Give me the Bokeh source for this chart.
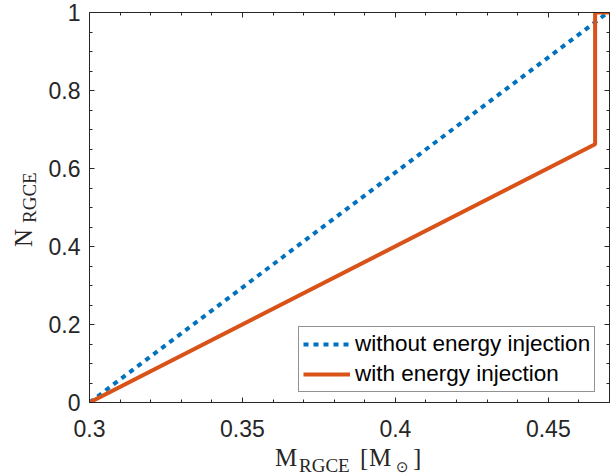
from bokeh.plotting import figure
from bokeh.models import FixedTicker, LinearAxis, Legend, LegendItem, Range1d, Div
from bokeh.layouts import column, row
from bokeh.embed import file_html
from bokeh.resources import INLINE

# ---- data ----
mass_without = [0.3, 0.4695]
n_without = [0.0, 1.0]
mass_with = [0.3, 0.4653, 0.4653, 0.47]
n_with = [0.0, 0.662, 1.0, 1.0]

series_names = ["without energy injection", "with energy injection"]

x_major = [0.3, 0.35, 0.4, 0.45]
x_tick_labels = ["0.3", "0.35", "0.4", "0.45"]
x_minor = [0.31, 0.32, 0.33, 0.34, 0.36, 0.37, 0.38, 0.39, 0.41, 0.42, 0.43, 0.44, 0.46, 0.47]
y_major = [0.0, 0.2, 0.4, 0.6, 0.8, 1.0]
y_tick_labels = ["0", "0.2", "0.4", "0.6", "0.8", "1"]
y_minor = [0.05, 0.1, 0.15, 0.25, 0.3, 0.35, 0.45, 0.5, 0.55, 0.65, 0.7, 0.75, 0.85, 0.9, 0.95]

BLUE = "#0072BD"
ORANGE = "#D95319"
AXC = "#262626"
SANS = "Liberation Sans"
SERIF = "Liberation Serif"

W_LEFT = 40      # strip holding the y-axis title
H_PLOT = 445     # figure height; the x-axis title sits in a strip below

p = figure(width=610 - W_LEFT, height=H_PLOT, output_backend="svg", toolbar_location=None,
           x_range=Range1d(0.3, 0.47), y_range=Range1d(0, 1),
           min_border_left=89 - W_LEFT, min_border_right=1, min_border_top=12,
           min_border_bottom=H_PLOT - 402)
p.xgrid.visible = False
p.ygrid.visible = False
p.outline_line_color = None
p.background_fill_color = "white"
p.border_fill_color = "white"

r1 = p.line(mass_without, n_without, line_color=BLUE, line_width=4, line_dash="5 5")
r2 = p.line(mass_with, n_with, line_color=ORANGE, line_width=4)

xt = FixedTicker(ticks=x_major, minor_ticks=x_minor)
yt = FixedTicker(ticks=y_major, minor_ticks=y_minor)


def style(ax, show_labels, overrides):
    ax.axis_line_color = AXC
    ax.axis_line_width = 1
    ax.major_tick_line_color = AXC
    ax.minor_tick_line_color = AXC
    ax.major_tick_in = 5
    ax.major_tick_out = 0
    ax.minor_tick_in = 3
    ax.minor_tick_out = 0
    if show_labels:
        ax.major_label_text_font = SANS
        ax.major_label_text_font_size = "23px"
        ax.major_label_text_color = AXC
        ax.major_label_overrides = overrides
    else:
        ax.major_label_text_font_size = "0px"
        ax.major_label_text_color = None
        ax.major_label_standoff = 0


p.xaxis.ticker = xt
p.yaxis.ticker = yt
style(p.xaxis[0], True, dict(zip(x_major, x_tick_labels)))
style(p.yaxis[0], True, dict(zip(y_major, y_tick_labels)))
p.xaxis.major_label_standoff = 17
p.yaxis.major_label_standoff = 9

top = LinearAxis(ticker=xt)
style(top, False, None)
right = LinearAxis(ticker=yt)
style(right, False, None)
p.add_layout(top, "above")
p.add_layout(right, "right")

legend = Legend(items=[LegendItem(label=series_names[0], renderers=[r1]),
                       LegendItem(label=series_names[1], renderers=[r2])],
                location=(209, 10), margin=0, padding=4, spacing=4,
                glyph_width=47, glyph_height=20, label_height=20, label_standoff=5,
                label_text_font=SANS, label_text_font_size="22.5px", label_text_color="black",
                border_line_color=AXC, border_line_width=1,
                background_fill_color="white", background_fill_alpha=1.0)
p.add_layout(legend)


def piece(text, left, top, size, font=SERIF, rotate=False):
    tr = "transform-origin:0 0;transform:rotate(-90deg);" if rotate else ""
    return (f'<span style="position:absolute;left:{left}px;top:{top}px;'
            f'font-family:\'{font}\';font-size:{size}px;line-height:{size}px;'
            f'color:{AXC};white-space:nowrap;{tr}">{text}</span>')


x_title = "".join([
    piece("M", 275, 0, 25),
    piece("RGCE", 299, 11, 19),
    piece("[", 360, 0, 25),
    piece("M", 369, 0, 25),
    piece("\u2299", 396, 15, 15, font="DejaVu Sans"),
    piece("]", 413, 0, 25),
])
y_title = "".join([
    piece("N", 11, 247, 25, rotate=True),
    piece("RGCE", 19.6, 223, 19, rotate=True),
])

ydiv = Div(text=f'<div style="position:relative;width:{W_LEFT}px;height:{H_PLOT}px;">{y_title}</div>',
           width=W_LEFT, height=H_PLOT, margin=0)
xdiv = Div(text=f'<div style="position:relative;width:610px;height:{473 - H_PLOT}px;">{x_title}</div>',
           width=610, height=473 - H_PLOT, margin=0)

layout = column(row(ydiv, p, spacing=0), xdiv, spacing=0)

open("out.html", "w").write(file_html(layout, INLINE))
